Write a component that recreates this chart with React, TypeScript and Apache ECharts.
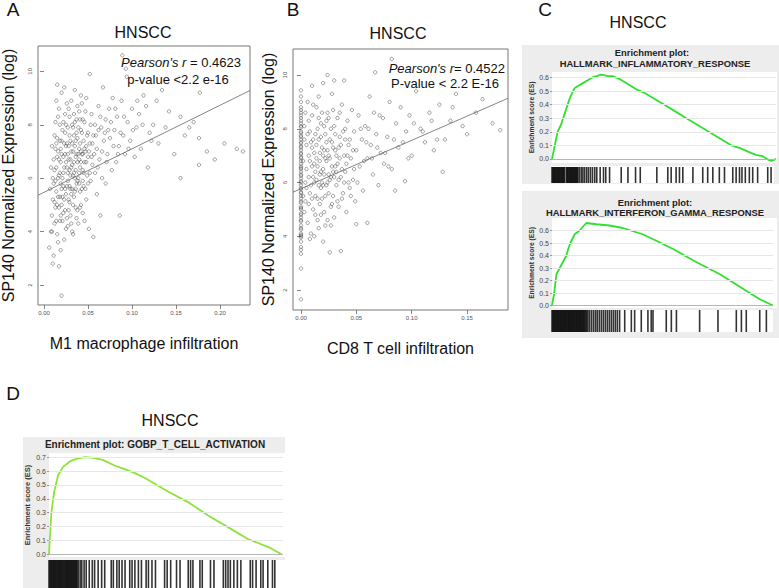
import React, { useEffect, useRef } from "react";
import * as echarts from "echarts";

const SANS = "'Liberation Sans', Arial, Helvetica, sans-serif";

// ---------- Panel A: M1 macrophage vs SP140 ----------
const m1Points: number[][] = [
  [0.006, 3.4], [0.008, 4.0], [0.009, 4.6], [0.010, 2.8], [0.010, 5.2], [0.011, 5.8], [0.012, 6.3], [0.012, 4.3],
  [0.013, 7.1], [0.014, 5.5], [0.015, 6.8], [0.015, 3.9], [0.016, 8.3], [0.016, 6.0], [0.017, 4.9], [0.018, 5.3],
  [0.018, 7.4], [0.019, 3.3], [0.019, 6.6], [0.020, 1.6], [0.020, 9.2], [0.020, 5.0], [0.021, 4.4], [0.021, 7.8],
  [0.022, 6.2], [0.022, 5.7], [0.023, 9.4], [0.023, 3.7], [0.024, 6.9], [0.024, 4.8], [0.025, 8.0], [0.025, 5.4],
  [0.026, 6.4], [0.026, 7.3], [0.027, 4.2], [0.027, 5.9], [0.028, 8.6], [0.028, 6.7], [0.029, 5.1], [0.029, 7.6],
  [0.030, 6.1], [0.030, 4.6], [0.031, 8.9], [0.031, 7.0], [0.032, 5.6], [0.032, 6.5], [0.033, 3.9], [0.033, 7.9],
  [0.034, 6.2], [0.034, 5.3], [0.035, 9.3], [0.035, 7.2], [0.036, 6.8], [0.036, 4.9], [0.037, 8.2], [0.037, 5.8],
  [0.038, 6.6], [0.038, 7.5], [0.039, 4.3], [0.039, 6.0], [0.040, 8.5], [0.040, 7.1], [0.041, 5.5], [0.041, 6.4],
  [0.042, 7.8], [0.042, 5.0], [0.043, 6.9], [0.043, 8.8], [0.044, 6.3], [0.044, 4.7], [0.045, 7.4], [0.045, 5.7],
  [0.046, 8.1], [0.046, 6.6], [0.047, 7.0], [0.048, 5.2], [0.048, 9.0], [0.049, 6.1], [0.050, 7.7], [0.050, 6.8],
  [0.051, 4.1], [0.052, 9.9], [0.052, 7.3], [0.053, 5.9], [0.054, 8.4], [0.055, 6.5], [0.056, 3.8], [0.056, 7.6],
  [0.058, 6.2], [0.058, 8.0], [0.060, 7.1], [0.060, 5.4], [0.062, 8.7], [0.063, 6.7], [0.064, 4.6], [0.065, 7.9],
  [0.066, 6.0], [0.067, 9.4], [0.068, 7.4], [0.070, 8.2], [0.070, 5.8], [0.072, 6.9], [0.074, 8.6], [0.075, 7.5],
  [0.077, 6.3], [0.078, 9.0], [0.080, 7.8], [0.082, 6.6], [0.083, 8.3], [0.085, 7.2], [0.086, 4.6], [0.088, 8.9],
  [0.089, 10.6], [0.090, 7.6], [0.092, 6.9], [0.093, 10.1], [0.094, 9.8], [0.095, 8.1], [0.098, 7.4], [0.100, 8.6],
  [0.103, 6.8], [0.105, 7.9], [0.108, 8.4], [0.110, 7.1], [0.113, 9.1], [0.116, 8.7], [0.118, 6.4], [0.120, 7.7],
  [0.124, 8.0], [0.128, 8.9], [0.130, 7.3], [0.134, 9.3], [0.138, 7.9], [0.142, 8.5], [0.148, 6.9], [0.155, 8.3],
  [0.155, 6.0], [0.160, 7.6], [0.165, 7.9], [0.170, 8.1], [0.176, 7.5], [0.176, 6.5], [0.177, 9.2], [0.185, 7.0],
  [0.194, 6.7], [0.205, 7.3], [0.219, 7.1], [0.226, 7.0],
  [0.012, 7.6], [0.014, 8.9], [0.015, 9.5], [0.017, 6.1], [0.018, 4.4], [0.020, 5.6], [0.022, 8.1], [0.024, 7.7],
  [0.026, 4.5], [0.028, 5.2], [0.030, 7.4], [0.032, 4.0], [0.034, 8.4], [0.036, 5.6], [0.038, 4.8], [0.040, 6.2],
  [0.042, 9.1], [0.044, 5.9], [0.046, 4.4], [0.048, 7.2], [0.020, 6.9], [0.025, 6.6], [0.029, 6.3], [0.033, 7.0],
  [0.037, 6.9], [0.041, 7.3], [0.027, 7.9], [0.023, 5.2], [0.019, 5.8], [0.031, 5.4], [0.035, 6.0], [0.013, 4.9],
  [0.016, 3.6], [0.011, 3.1], [0.017, 2.7], [0.009, 4.0],
  [0.007, 5.6], [0.008, 6.4], [0.009, 7.2], [0.010, 6.0], [0.011, 6.7], [0.012, 5.1], [0.013, 5.9], [0.013, 8.1],
  [0.014, 6.4], [0.014, 4.4], [0.015, 7.5], [0.016, 5.3], [0.016, 7.0], [0.017, 8.6], [0.018, 6.2], [0.019, 7.1],
  [0.019, 4.6], [0.020, 7.4], [0.021, 6.0], [0.021, 5.3], [0.022, 6.8], [0.022, 4.7], [0.023, 7.3], [0.023, 6.4],
  [0.024, 5.6], [0.024, 8.4], [0.025, 4.1], [0.025, 7.2], [0.026, 5.7], [0.026, 8.8], [0.027, 6.9], [0.027, 6.2],
  [0.028, 7.2], [0.028, 4.8], [0.029, 5.7], [0.029, 8.3], [0.030, 6.7], [0.030, 5.6], [0.031, 6.4], [0.031, 4.3],
  [0.032, 7.3], [0.032, 8.0], [0.033, 6.1], [0.033, 5.0], [0.034, 7.6], [0.034, 6.6], [0.035, 5.5], [0.035, 8.1],
  [0.036, 7.4], [0.036, 6.3], [0.037, 7.7], [0.037, 4.5], [0.038, 5.9], [0.038, 8.7], [0.039, 6.9], [0.039, 7.9],
  [0.040, 5.8], [0.040, 6.7], [0.041, 8.2], [0.041, 4.9], [0.042, 6.6], [0.042, 7.0], [0.043, 5.6], [0.043, 7.7],
  [0.044, 6.9], [0.044, 8.2], [0.045, 6.2], [0.046, 7.1], [0.047, 5.6], [0.047, 8.5], [0.048, 6.6], [0.049, 7.6],
  [0.050, 5.8], [0.051, 7.0], [0.052, 6.2], [0.053, 8.0], [0.054, 6.8], [0.055, 7.3], [0.057, 6.9], [0.059, 7.6],
  [0.061, 6.4], [0.062, 7.8], [0.064, 8.3], [0.066, 7.0], [0.069, 7.7], [0.071, 6.6], [0.073, 7.8], [0.076, 8.1],
  [0.079, 7.2], [0.081, 8.6], [0.084, 6.9], [0.087, 7.7], [0.091, 8.3], [0.096, 7.1], [0.101, 7.8], [0.106, 8.9],
  [0.112, 8.0], [0.122, 7.4], [0.014, 7.3], [0.018, 8.0], [0.017, 6.7], [0.015, 5.0],
];
const m1Fit = [5.47, 16.3]; // intercept, slope
const m1XTicks = [0, 0.05, 0.1, 0.15, 0.2];

// ---------- Panel B: CD8 T cell vs SP140 ----------
const cd8ZeroColumn = [
  1.65, 2.8, 3.35, 3.5, 3.6, 3.8, 3.95, 4.0, 4.05, 4.1, 4.25, 4.3, 4.4, 4.55, 4.6, 4.7, 4.8, 4.85, 5.0, 5.05,
  5.1, 5.25, 5.3, 5.4, 5.5, 5.6, 5.65, 5.75, 5.8, 5.9, 6.0, 6.05, 6.15, 6.25, 6.3, 6.4, 6.5, 6.55, 6.6, 6.7,
  6.8, 6.9, 6.95, 7.05, 7.1, 7.2, 7.3, 7.35, 7.45, 7.5, 7.6, 7.7, 7.75, 7.85, 7.9, 8.05, 8.1, 8.2, 8.3, 8.4,
  8.5, 8.6, 8.7, 8.8, 9.0, 9.2, 9.43,
];
const cd8Points: number[][] = [
  [0.002, 6.8], [0.003, 8.1], [0.004, 5.3], [0.005, 7.4], [0.006, 4.5], [0.006, 9.0], [0.007, 6.2], [0.008, 5.6],
  [0.008, 7.9], [0.009, 4.1], [0.010, 6.6], [0.010, 8.5], [0.011, 5.0], [0.012, 7.1], [0.012, 6.0], [0.013, 4.8],
  [0.014, 8.8], [0.014, 6.9], [0.015, 5.4], [0.016, 7.6], [0.016, 4.3], [0.017, 6.3], [0.018, 8.2], [0.018, 5.8],
  [0.019, 7.3], [0.020, 9.7], [0.020, 6.5], [0.021, 4.9], [0.022, 7.8], [0.022, 5.5], [0.023, 6.8], [0.024, 8.6],
  [0.024, 4.6], [0.025, 7.0], [0.026, 3.4], [0.026, 6.1], [0.027, 8.0], [0.028, 5.2], [0.028, 7.5], [0.029, 6.4],
  [0.030, 9.8], [0.030, 4.7], [0.031, 7.2], [0.032, 5.9], [0.033, 8.4], [0.033, 6.7], [0.034, 5.1], [0.035, 7.7],
  [0.036, 3.45], [0.036, 6.2], [0.037, 8.9], [0.038, 5.6], [0.039, 9.8], [0.039, 7.0], [0.040, 6.4], [0.041, 4.9],
  [0.042, 8.3], [0.043, 7.4], [0.044, 5.8], [0.045, 6.9], [0.046, 8.7], [0.047, 6.1], [0.048, 7.9], [0.049, 5.3],
  [0.050, 4.45], [0.050, 7.2], [0.052, 8.5], [0.053, 6.6], [0.055, 7.6], [0.056, 5.7], [0.058, 8.1], [0.060, 4.5],
  [0.060, 6.9], [0.062, 9.2], [0.063, 7.4], [0.065, 6.3], [0.066, 8.6], [0.067, 10.1], [0.068, 7.8], [0.070, 5.9],
  [0.072, 7.1], [0.074, 8.4], [0.075, 6.7], [0.078, 7.7], [0.080, 9.0], [0.082, 10.6], [0.082, 6.5], [0.085, 5.7],
  [0.086, 8.2], [0.088, 7.3], [0.090, 8.8], [0.094, 6.05], [0.095, 7.9], [0.098, 8.5], [0.100, 7.0], [0.104, 9.4],
  [0.108, 8.0], [0.112, 7.5], [0.116, 8.6], [0.120, 7.2], [0.125, 8.9], [0.128, 6.4], [0.130, 7.6], [0.135, 8.3],
  [0.137, 8.8], [0.140, 9.3], [0.146, 8.1], [0.150, 7.8], [0.158, 8.6], [0.164, 9.1], [0.173, 8.2], [0.180, 7.95],
  [0.004, 6.0], [0.007, 7.0], [0.009, 5.9], [0.011, 7.6], [0.013, 6.4], [0.015, 8.0], [0.017, 5.2], [0.019, 6.0],
  [0.021, 7.2], [0.023, 5.9], [0.025, 6.3], [0.027, 4.4], [0.029, 8.7], [0.031, 6.6], [0.034, 7.3], [0.037, 5.4],
  [0.040, 7.6], [0.043, 6.0], [0.003, 4.9], [0.005, 5.8], [0.008, 3.9], [0.012, 4.0], [0.020, 3.8], [0.018, 4.8],
  [0.028, 9.3], [0.016, 9.2], [0.010, 9.6], [0.024, 10.0],
  [0.002, 5.5], [0.003, 7.6], [0.004, 8.6], [0.005, 6.5], [0.006, 7.8], [0.007, 5.2], [0.007, 8.3], [0.008, 6.8],
  [0.009, 7.5], [0.010, 5.4], [0.010, 7.3], [0.011, 6.2], [0.011, 8.9], [0.012, 6.7], [0.013, 7.8], [0.013, 5.5],
  [0.014, 6.1], [0.014, 7.4], [0.015, 6.6], [0.015, 4.6], [0.016, 5.9], [0.016, 8.4], [0.017, 7.1], [0.017, 6.8],
  [0.018, 6.4], [0.018, 7.7], [0.019, 5.4], [0.019, 8.6], [0.020, 7.0], [0.020, 5.9], [0.021, 6.3], [0.021, 8.1],
  [0.022, 6.9], [0.022, 4.4], [0.023, 7.5], [0.023, 8.3], [0.024, 6.0], [0.024, 7.2], [0.025, 5.6], [0.025, 8.4],
  [0.026, 6.9], [0.026, 7.6], [0.027, 6.2], [0.027, 5.1], [0.028, 6.6], [0.029, 7.3], [0.029, 5.5], [0.030, 6.2],
  [0.030, 8.1], [0.031, 7.8], [0.032, 6.4], [0.032, 7.0], [0.033, 5.3], [0.034, 6.1], [0.035, 6.9], [0.035, 8.6],
  [0.036, 7.4], [0.037, 6.5], [0.038, 7.9], [0.039, 6.0], [0.040, 8.0], [0.041, 6.7], [0.042, 7.0], [0.044, 7.6],
  [0.045, 5.5], [0.047, 7.2], [0.048, 6.5], [0.051, 6.0], [0.054, 8.0], [0.057, 6.8], [0.059, 7.5], [0.061, 8.0],
  [0.064, 6.9], [0.069, 7.3], [0.071, 8.5], [0.076, 7.1], [0.079, 6.6], [0.084, 7.6], [0.092, 7.5], [0.097, 6.9],
  [0.102, 8.2], [0.110, 7.9], [0.118, 8.3], [0.123, 7.6],
];
const cd8Fit = [5.77, 18.0];
const cd8XTicks = [0, 0.05, 0.1, 0.15];
const exprTicks = [2, 4, 6, 8, 10];

// ---------- GSEA curves (x = % of ranked list, y = ES) ----------
const inflamCurve: number[][] = [
  [0, 0], [1.5, 0.12], [2.5, 0.2], [4, 0.25], [6, 0.35], [8, 0.45], [10, 0.52], [12, 0.54], [14, 0.56],
  [16, 0.58], [18, 0.6], [20, 0.61], [22, 0.62], [25, 0.61], [27, 0.61], [30, 0.59], [34, 0.55], [38, 0.51],
  [42, 0.48], [46, 0.44], [50, 0.4], [55, 0.35], [60, 0.3], [65, 0.25], [70, 0.2], [75, 0.15], [80, 0.1],
  [84, 0.08], [88, 0.05], [91, 0.03], [94, 0.02], [97, -0.01], [98, -0.015], [100, 0],
];
const inflamHits = [
  0, 0.4, 0.8, 1.2, 1.6, 2, 2.4, 2.8, 3.2, 3.6, 4, 4.4, 4.8, 5.2, 5.6, 6.4, 6.8, 7.2, 7.6, 8, 8.4, 8.8, 9.2,
  9.6, 10, 10.4, 10.8, 11.2, 11.6, 12.3, 13.1, 13.8, 14.6, 15.5, 16.3, 17.2, 18.1, 19.1, 20, 21.5, 23, 24, 25.7,
  30.9, 33.9, 37.3, 39.4, 46.8, 51.7, 53.2, 55.4, 56.9, 58.4, 62.9, 67.3, 69.5, 71.8, 74.7, 77, 80.7, 82.2,
  83.7, 84.8, 86.3, 88.1, 89.6, 91.8, 96.3, 97.8,
];
const ifngCurve: number[][] = [
  [0, 0], [1, 0.1], [2, 0.25], [3.5, 0.3], [5, 0.35], [6.5, 0.4], [7.3, 0.45], [8.3, 0.5], [10.3, 0.57],
  [12.5, 0.6], [14, 0.63], [15.5, 0.66], [20, 0.65], [26, 0.64], [32, 0.62], [41, 0.57], [47, 0.52],
  [55, 0.45], [65, 0.35], [76, 0.25], [85, 0.15], [94, 0.05], [100, 0],
];
const ifngHits = [
  0, 0.4, 0.8, 1.2, 1.6, 2, 2.4, 2.8, 3.2, 3.6, 4, 4.4, 4.8, 5.2, 5.6, 6, 6.4, 6.8, 7.2, 7.6, 8, 8.4, 8.8,
  9.2, 9.6, 10, 10.4, 10.8, 11.2, 11.6, 12, 12.4, 12.8, 13.2, 13.6, 14, 14.4, 14.8, 15.3, 15.8, 16.3,
  17.1, 18, 18.9, 19.8, 20.6, 21.5, 22.4, 23.3, 24.2, 25.1, 26, 26.9, 27.8, 28.7, 29.6, 30.6,
  32.9, 35.9, 37.4, 40.4, 43.4, 44.9, 45.7, 51.7, 54, 56.3, 66.8, 75.1, 83.4, 85.7, 87.9, 94, 97,
];
const tcellCurve: number[][] = [
  [0, 0], [1, 0.3], [2.2, 0.45], [3.9, 0.57], [6, 0.63], [9, 0.67], [12, 0.69], [15.5, 0.7], [19, 0.695],
  [23, 0.68], [28, 0.64], [32, 0.615], [36, 0.59], [41, 0.55], [51, 0.45], [60, 0.37], [68, 0.28], [77, 0.19],
  [85, 0.11], [94, 0.05], [99.3, 0],
];
const tcellHits = [
  0, 0.4, 0.8, 1.2, 1.6, 2, 2.4, 2.8, 3.2, 3.6, 4, 4.4, 4.8, 5.2, 5.6, 6, 6.4, 6.8, 7.2, 7.6, 8, 8.4, 8.8,
  9.2, 9.6, 10, 10.4, 10.8, 11.2, 11.6, 12, 12.5, 13.3, 14, 15, 15.9, 17.2, 18.5, 19.5, 21, 22.5, 23.8,
  26.6, 27.5, 29, 30, 31.2, 32.5, 34.5, 35.5, 36.7, 38.2, 39.5, 41.5, 42.5, 44, 45.5, 49.4, 50.5, 52, 54.5,
  56, 59.5, 60.5, 61.5, 64.5, 65.5, 69, 70.5, 74.5, 75.5, 76.5, 77.5, 79, 80.5, 82, 86, 87, 88.5, 90.5,
  91.5, 93.5, 95.5, 96.5,
];
const esTicksC = [0, 0.1, 0.2, 0.3, 0.4, 0.5, 0.6];
const esTicksD = [0, 0.1, 0.2, 0.3, 0.4, 0.5, 0.6, 0.7];

function scatterAxes(gi: number, xmin: number, xmax: number, ymin: number, ymax: number, xt: number[], xName: string, yGap: number) {
  const x = {
    type: "value", gridIndex: gi, min: xmin, max: xmax,
    axisLine: { show: false },
    axisTick: { show: true, length: 4, customValues: xt, lineStyle: { color: "#666", width: 0.8 } },
    axisLabel: { customValues: xt, fontSize: 6, color: "#555", margin: 5, fontFamily: SANS, formatter: (v: number) => v.toFixed(2) },
    splitLine: { show: false },
    name: xName, nameLocation: "middle", nameGap: 30,
    nameTextStyle: { fontSize: 16, color: "#111", fontFamily: SANS },
  };
  const y = {
    type: "value", gridIndex: gi, min: ymin, max: ymax,
    axisLine: { show: false },
    axisTick: { show: true, length: 4, customValues: exprTicks, lineStyle: { color: "#666", width: 0.8 } },
    axisLabel: { customValues: exprTicks, fontSize: 6, color: "#555", margin: 5, rotate: 90, fontFamily: SANS },
    splitLine: { show: false },
    name: "SP140 Normalized Expression (log)", nameLocation: "middle", nameGap: yGap,
    nameTextStyle: { fontSize: 16, color: "#111", fontFamily: SANS },
  };
  return { x, y };
}

function gseaAxes(gi: number, ymin: number, ymax: number, ticks: number[], xInterval: number, xmax: number, nameSize: number, labelSize: number, nameGap: number) {
  const x = {
    type: "value", gridIndex: gi, min: 0, max: xmax, interval: xInterval,
    axisLine: { show: false }, axisTick: { show: false }, axisLabel: { show: false },
    splitLine: { show: true, lineStyle: { color: "#e6e6e6", width: 1 } },
  };
  const y = {
    type: "value", gridIndex: gi, min: ymin, max: ymax,
    axisLine: { show: false },
    axisTick: { show: true, length: 2, customValues: ticks, lineStyle: { color: "#999" } },
    axisLabel: { customValues: ticks, fontSize: labelSize, color: "#444", margin: 3, fontFamily: SANS, formatter: (v: number) => v.toFixed(1) },
    splitLine: { show: false },
    name: "Enrichment score (ES)", nameLocation: "middle", nameGap,
    nameTextStyle: { fontSize: nameSize, fontWeight: "bold", color: "#333", fontFamily: SANS },
  };
  return { x, y };
}

function rugAxes(gi: number, xmax: number) {
  return {
    x: { type: "value", gridIndex: gi, min: 0, max: xmax, show: false },
    y: { type: "value", gridIndex: gi, min: 0, max: 1, show: false },
  };
}

function gridLines(ai: number, ticks: number[]) {
  return {
    type: "line", xAxisIndex: ai, yAxisIndex: ai, data: [[0, 0]], showSymbol: false, silent: true, z: 1,
    lineStyle: { opacity: 0 },
    markLine: {
      silent: true, symbol: ["none", "none"], label: { show: false },
      lineStyle: { color: "#e6e6e6", width: 1, type: "solid" },
      data: ticks.map((v) => (v === 0 ? { yAxis: v, lineStyle: { color: "#b5b5b5", width: 1, type: "solid" } } : { yAxis: v })),
    },
  };
}

function curve(ai: number, data: number[][], color: string) {
  return {
    type: "line", xAxisIndex: ai, yAxisIndex: ai, data, showSymbol: false, smooth: false, z: 3,
    lineStyle: { color, width: 1.8 },
  };
}

function rug(ai: number, hits: number[], h: number) {
  return {
    type: "scatter", xAxisIndex: ai, yAxisIndex: ai, data: hits.map((v) => [v, 0.5]),
    symbol: "rect", symbolSize: [1.6, h], itemStyle: { color: "#000" }, silent: true, z: 3,
  };
}

function txt(x: number, y: number, text: string, size: number, extra: any = {}) {
  return {
    type: "text", x, y, z: 5,
    style: { text, fontSize: size, fontFamily: SANS, fill: "#111", align: "center", verticalAlign: "middle", textAlign: "center", textVerticalAlign: "middle", ...extra },
  };
}

function rect(x: number, y: number, w: number, h: number, fill: string, z: number) {
  return { type: "rect", z, shape: { x, y, width: w, height: h }, style: { fill } };
}

export default function App() {
  const ref = useRef<HTMLDivElement>(null);
  useEffect(() => {
    if (!ref.current) return;
    const chart = echarts.init(ref.current, null, { renderer: "svg" });

    const aAx = scatterAxes(0, -0.0068, 0.234, 1.25, 10.95, m1XTicks, "M1 macrophage infiltration", 22);
    const bAx = scatterAxes(1, -0.0072, 0.187, 1.256, 10.97, cd8XTicks, "CD8 T cell infiltration", 17);
    const c1 = gseaAxes(2, -0.03, 0.64, esTicksC, 15.5, 100, 6.7, 7, 16);
    const c1r = rugAxes(3, 100);
    const c2 = gseaAxes(4, -0.02, 0.7, esTicksC, 15.5, 100, 6.7, 7, 16);
    const c2r = rugAxes(5, 100);
    const d = gseaAxes(6, -0.02, 0.73, esTicksD, 13.65, 100, 7.5, 7, 18);
    const dr = rugAxes(7, 100);

    const m1Line = [
      [-0.0068, m1Fit[0] + m1Fit[1] * -0.0068],
      [0.234, m1Fit[0] + m1Fit[1] * 0.234],
    ];
    const cd8Line = [
      [-0.0072, cd8Fit[0] + cd8Fit[1] * -0.0072],
      [0.187, cd8Fit[0] + cd8Fit[1] * 0.187],
    ];
    const cd8All = [...cd8ZeroColumn.map((v) => [0, v]), ...cd8Points];

    const scatterStyle = {
      symbol: "circle", symbolSize: 3.4,
      itemStyle: { color: "rgba(0,0,0,0)", borderColor: "#3a3a3a", borderWidth: 0.6 },
    };

    const gridBase = { outerBoundsMode: "none", containLabel: false };

    chart.setOption({
      animation: false,
      grid: [
        { ...gridBase, left: 38, top: 46, width: 212, height: 259, show: true, borderColor: "#777", borderWidth: 1, backgroundColor: "transparent" },
        { ...gridBase, left: 293, top: 49, width: 215, height: 261, show: true, borderColor: "#777", borderWidth: 1, backgroundColor: "transparent" },
        { ...gridBase, left: 552, top: 72, width: 224, height: 91 },
        { ...gridBase, left: 552, top: 167, width: 224, height: 16 },
        { ...gridBase, left: 552, top: 218, width: 221, height: 90 },
        { ...gridBase, left: 552, top: 310, width: 221, height: 22 },
        { ...gridBase, left: 49, top: 453, width: 234, height: 104 },
        { ...gridBase, left: 49, top: 560, width: 234, height: 28 },
      ],
      xAxis: [aAx.x, bAx.x, c1.x, c1r.x, c2.x, c2r.x, d.x, dr.x],
      yAxis: [aAx.y, bAx.y, c1.y, c1r.y, c2.y, c2r.y, d.y, dr.y],
      series: [
        { type: "scatter", xAxisIndex: 0, yAxisIndex: 0, data: m1Points, ...scatterStyle, z: 3 },
        { type: "line", xAxisIndex: 0, yAxisIndex: 0, data: m1Line, showSymbol: false, lineStyle: { color: "#666", width: 0.8 }, z: 4 },
        { type: "scatter", xAxisIndex: 1, yAxisIndex: 1, data: cd8All, ...scatterStyle, z: 3 },
        { type: "line", xAxisIndex: 1, yAxisIndex: 1, data: cd8Line, showSymbol: false, lineStyle: { color: "#666", width: 0.8 }, z: 4 },
        gridLines(2, esTicksC),
        curve(2, inflamCurve, "#2fe02f"),
        rug(3, inflamHits, 16),
        gridLines(4, esTicksC),
        curve(4, ifngCurve, "#2fe02f"),
        rug(5, ifngHits, 22),
        gridLines(6, esTicksD),
        curve(6, tcellCurve, "#8ee23c"),
        rug(7, tcellHits, 28),
      ],
      graphic: [
        // GSEA panel backgrounds
        rect(522, 45, 257, 139, "#ededed", 0),
        rect(552, 72, 225, 91, "#ffffff", 1),
        rect(552, 166, 222, 17, "#ffffff", 1),
        rect(522, 191, 257, 147, "#ededed", 0),
        rect(552, 218, 225, 90, "#ffffff", 1),
        rect(552, 310, 221, 22, "#ffffff", 1),
        rect(23, 437, 262, 151, "#ededed", 0),
        rect(49, 453, 236, 104, "#ffffff", 1),
        rect(49, 560, 236, 28, "#ffffff", 1),
        // Panel letters
        txt(13, 9, "A", 19),
        txt(293, 9, "B", 19),
        txt(545, 9, "C", 19),
        txt(13, 393, "D", 19),
        // Titles
        txt(143, 32, "HNSCC", 16),
        txt(398, 33, "HNSCC", 16),
        txt(638, 22, "HNSCC", 16),
        txt(170, 420, "HNSCC", 16),
        // Correlation annotations
        {
          type: "text", x: 241, y: 62, z: 5,
          style: {
            text: "{i|Pearson's r} = 0.4623", fontSize: 13, fontFamily: SANS, fill: "#111",
            align: "right", verticalAlign: "middle", textAlign: "right", textVerticalAlign: "middle",
            rich: { i: { fontStyle: "italic", fontSize: 13, fontFamily: SANS, fill: "#111" } },
          },
        },
        txt(178, 79, "p-value <2.2 e-16", 13),
        {
          type: "text", x: 505, y: 68, z: 5,
          style: {
            text: "{i|Pearson's r}= 0.4522", fontSize: 13, fontFamily: SANS, fill: "#111",
            align: "right", verticalAlign: "middle", textAlign: "right", textVerticalAlign: "middle",
            rich: { i: { fontStyle: "italic", fontSize: 13, fontFamily: SANS, fill: "#111" } },
          },
        },
        txt(445, 83, "P-value < 2.2 E-16", 13),
        // GSEA headers
        txt(652, 52, "Enrichment plot:", 9.4, { fontWeight: "bold", fill: "#222" }),
        txt(655, 63, "HALLMARK_INFLAMMATORY_RESPONSE", 9.4, { fontWeight: "bold", fill: "#222" }),
        txt(655, 202, "Enrichment plot:", 9.4, { fontWeight: "bold", fill: "#222" }),
        txt(655, 212, "HALLMARK_INTERFERON_GAMMA_RESPONSE", 9.4, { fontWeight: "bold", fill: "#222" }),
        txt(155, 444, "Enrichment plot: GOBP_T_CELL_ACTIVATION", 10, { fontWeight: "bold", fill: "#222" }),
      ],
    });
    return () => chart.dispose();
  }, []);
  return <div ref={ref} style={{ position: "absolute", left: 0, top: 0, width: 779, height: 588 }} />;
}
